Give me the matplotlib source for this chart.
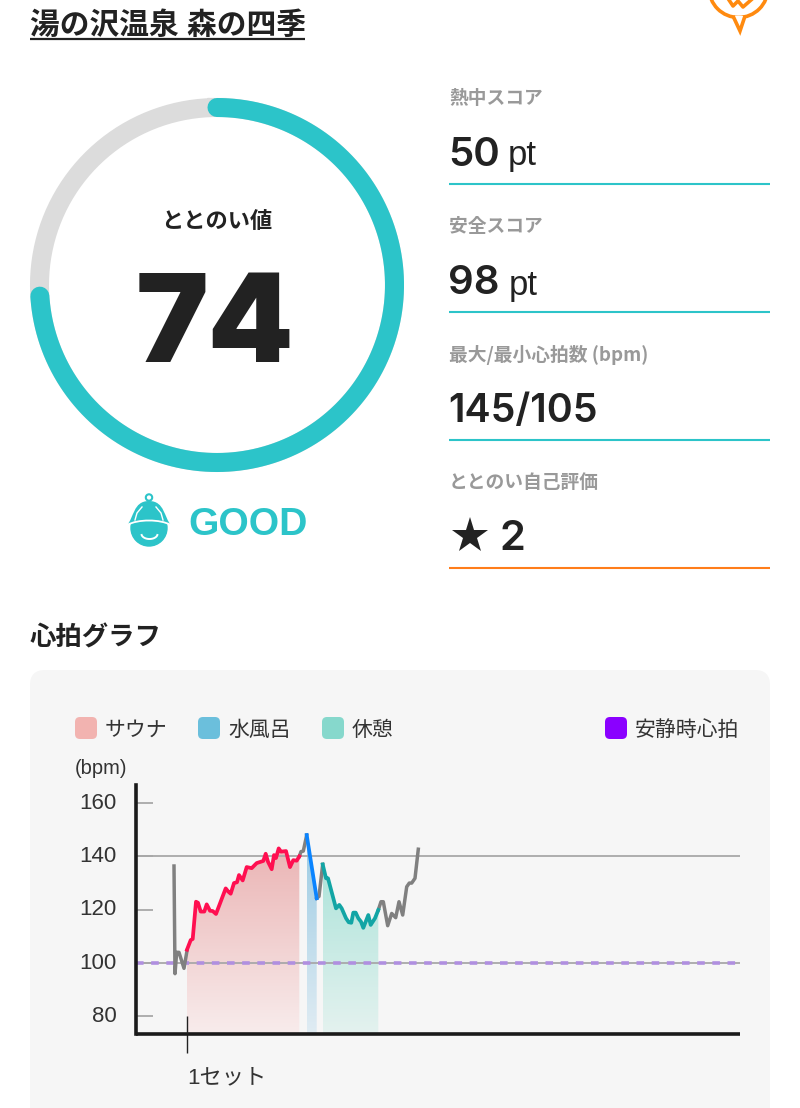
# -*- coding: utf-8 -*-
import numpy as np
import matplotlib
matplotlib.use('Agg')
import matplotlib.pyplot as plt
from matplotlib.patches import Circle, FancyBboxPatch, PathPatch, Polygon
from matplotlib.path import Path
from matplotlib.colors import to_rgb
from matplotlib.transforms import ScaledTranslation

plt.rcParams['font.family'] = ['Liberation Sans', 'Noto Sans CJK JP', 'DejaVu Sans']
CJK = ['Noto Sans CJK JP', 'DejaVu Sans']
NUM = ['Inter', 'Liberation Sans']

TEAL = '#2cc4c9'
GREY_TXT = '#999999'
DARK = '#222222'

# データ
title = '湯の沢温泉 森の四季'
score = 74
rating_text = 'GOOD'
stat_labels = ['熱中スコア', '安全スコア', '最大/最小心拍数 (bpm)', 'ととのい自己評価']
stat_y = [98, 226, 355, 483]
heat_score = '50'
safe_score = '98'
hr_range = '145/105'
self_rating = '2'

legend_names = ['サウナ', '水風呂', '休憩', '安静時心拍']
legend_colors = ['#f2b3b0', '#6bbfdc', '#86d8cc', '#8a00ff']

y_ticks = [80, 100, 120, 140, 160]
set_time = [51]
set_labels = ['1セット']

# 心拍 (x は経過時間の目盛, y は bpm)
pre_x = [38, 39, 40.7, 43, 48, 51]
pre_y = [136.4, 96, 104, 104, 98, 104.6]
sauna_x = [51, 54.7, 56.7, 60, 62, 64.7, 68.3, 70.7, 74, 76.7, 80, 89.7, 92.3, 94.7, 98, 101, 103, 106.7,
           110.7, 115.7, 120.7, 127.3, 129.7, 132, 135.7, 138, 140, 142.7, 145, 150, 154, 157.3, 160.7, 163.3]
sauna_y = [105, 108.6, 109, 123, 122.6, 119.3, 119.3, 122, 119.6, 119.5, 118.4, 128, 126.8, 126, 130, 130.3, 133, 131,
           136, 135.6, 137.5, 138.3, 141, 138, 135.2, 140.5, 139.4, 143, 141.8, 142, 136, 138.6, 138.4, 140]
mid_x = [163.3, 165, 167.3, 170.7]
mid_y = [140, 141.8, 142, 148]
water_x = [170.7, 180.7]
water_y = [148, 124.3]
gap_x = [180.7, 183, 186.7]
gap_y = [124.3, 125, 137]
rest_x = [186.7, 190, 192, 200, 203.3, 205.7, 210, 212.7, 215.3, 217.3, 219.7, 222.3, 225, 227.3, 229.7, 232.3,
          234.7, 239, 242.3]
rest_y = [137, 131.8, 131.8, 120.5, 121.8, 120.5, 116.8, 115.3, 115.1, 118.9, 118.9, 116.8, 115.5, 113.2, 115.5, 118,
          114.3, 116.8, 119.9]
post_x = [242.3, 245, 247.3, 251.7, 255.7, 259.7, 263, 266.7, 270.7, 273.3, 275.7, 279, 282.3]
post_y = [119.9, 123, 123, 114, 118.6, 117, 123, 118, 128.6, 130, 130, 131.8, 142.7]

fig = plt.figure(figsize=(8, 11.08), dpi=100, facecolor='white')
bg = fig.add_axes([0, 0, 1, 1])
bg.set_xlim(0, 800)
bg.set_ylim(1108, 0)
bg.axis('off')

# タイトル
bg.text(30, 26, title, fontsize=21.4, fontweight='bold', color=DARK, va='center')
bg.plot([30, 305], [39, 39], color=DARK, lw=1.6, solid_capstyle='butt')

# 右上のアイコン
ORANGE = '#ff8a0f'
bg.add_patch(Circle((738.5, -12), 29.5, fill=False, ec=ORANGE, lw=2.6))
bg.add_patch(Polygon([[733, 16], [740, 31], [745, 16]], closed=False, fc='white', ec=ORANGE, lw=2.6, zorder=3))
bg.plot([729, 733, 738, 743, 751], [0, 6, 1, 7, 0], color=ORANGE, lw=2.6)

# リング
ring_x, ring_y, ring_r = 217, 285, 177.5
t = np.linspace(0, 2 * np.pi, 300)
bg.plot(ring_x + ring_r * np.sin(t), ring_y - ring_r * np.cos(t), color='#dcdcdc', lw=13.7)
t = np.linspace(0, 2 * np.pi * score / 100, 300)
bg.plot(ring_x + ring_r * np.sin(t), ring_y - ring_r * np.cos(t), color=TEAL, lw=13.7, solid_capstyle='round')
bg.text(217, 222, 'ととのい値', fontsize=16, fontweight='bold', color=DARK, ha='center', va='center')
bg.text(215, 329, str(score), fontsize=88, fontweight=900, family=NUM, color=DARK, ha='center', va='center')

# GOOD アイコン
bg.add_patch(Circle((149, 497.5), 3.2, fill=False, ec=TEAL, lw=1.5))
bg.add_patch(Circle((149, 528), 18, color=TEAL))
dome = Path([(127, 525), (134, 518), (133, 501), (149, 501), (165, 501), (164, 518), (171, 525),
             (160, 519), (138, 519), (127, 525)],
            [Path.MOVETO, Path.CURVE4, Path.CURVE4, Path.CURVE4, Path.CURVE4, Path.CURVE4, Path.CURVE4,
             Path.CURVE4, Path.CURVE4, Path.CURVE4])
bg.add_patch(PathPatch(dome, fc=TEAL, ec='none', zorder=3))
brim = Path([(127, 525), (138, 519), (160, 519), (171, 525)], [Path.MOVETO, Path.CURVE4, Path.CURVE4, Path.CURVE4])
bg.add_patch(PathPatch(brim, fc='none', ec='white', lw=1.3, zorder=4))
bg.plot([135, 137, 142], [520, 513, 507], color='white', lw=1, zorder=4)
bg.plot([163, 161, 156], [520, 513, 507], color='white', lw=1, zorder=4)
t = np.linspace(0.2, np.pi - 0.2, 30)
bg.plot(149.5 + 8 * np.cos(t), 534 + 5 * np.sin(t), color='white', lw=1.4, zorder=4)
bg.text(188, 525, rating_text, fontsize=28.2, fontweight='bold', color=TEAL, va='center')

# 右カラム
for label, y in zip(stat_labels, stat_y):
    bg.text(449, y, label, fontsize=13.5, fontweight='bold', family=CJK, color=GREY_TXT, va='center')
bg.text(448, 155, heat_score, fontsize=29, fontweight=600, family=NUM, color=DARK, va='center')
bg.text(508, 156, 'pt', fontsize=25, color=DARK, va='center')
bg.text(448, 284, safe_score, fontsize=29, fontweight=600, family=NUM, color=DARK, va='center')
bg.text(509, 285, 'pt', fontsize=25, color=DARK, va='center')
bg.text(448, 411, hr_range, fontsize=28.3, fontweight=600, family=NUM, color=DARK, va='center')
bg.plot([470], [536], marker='*', ms=27, color=DARK, mew=0)
bg.text(499, 539, self_rating, fontsize=30, family=NUM, fontweight=600, color=DARK, va='center')
for y, c in zip([184, 312, 440, 568], [TEAL, TEAL, TEAL, '#ff7d1a']):
    bg.plot([449, 770], [y, y], color=c, lw=1.5, solid_capstyle='butt')

# グラフ領域
bg.text(30, 638, '心拍グラフ', fontsize=19, fontweight='bold', color=DARK, va='center')
bg.add_patch(FancyBboxPatch((30, 670), 740, 500, boxstyle='round,pad=0,rounding_size=15', fc='#f6f6f6', ec='none'))
for name, color, x in zip(legend_names, legend_colors, [75, 198, 322, 605]):
    bg.add_patch(FancyBboxPatch((x, 717), 22, 22, boxstyle='round,pad=0,rounding_size=5', fc=color, ec='none'))
    bg.text(x + 30, 730, name, fontsize=15, color='#333333', va='center')
bg.text(75, 769, '(bpm)', fontsize=14.5, color='#333333', va='center')

ax = fig.add_axes([136 / 800, 1 - 1034 / 1108, 604 / 800, 249 / 1108], facecolor='none')
y_bottom, y_top = 73.36, 166.8


def gradient_band(x, y, top_color, bottom_color):
    # 線の下だけグラデーションを見せる
    poly = ax.fill_between(x, y, y_bottom, color='none')
    top = np.array(to_rgb(top_color))
    bottom = np.array(to_rgb(bottom_color))
    grad = np.linspace(0, 1, 200)[:, None, None] * (bottom - top) + top
    im = ax.imshow(grad, extent=[x[0], x[-1], y_bottom, 143], origin='upper', aspect='auto', zorder=1)
    im.set_clip_path(poly.get_paths()[0], transform=ax.transData)


gradient_band(sauna_x, sauna_y, '#ebb5b5', '#f8ecec')
gradient_band(water_x, water_y, '#a0cde4', '#e0ecf3')
gradient_band(rest_x, rest_y, '#a8e2d8', '#e4f2ef')

ax.axhline(140, color='#a8a8a8', lw=1.3, zorder=2)
ax.axhline(100, color='#a8a8a8', lw=1.3, zorder=2)
ax.axhline(100, color='#b08fe0', lw=2.6, dashes=(2.1, 2.1), zorder=2.5)

for x, y in [(pre_x, pre_y), (mid_x, mid_y), (gap_x, gap_y), (post_x, post_y)]:
    ax.plot(x, y, color='#808080', lw=2.5, zorder=3, solid_joinstyle='round')
ax.plot(sauna_x, sauna_y, color='#ff0f50', lw=2.7, zorder=3)
ax.plot(water_x, water_y, color='#0a84ff', lw=2.7, zorder=3)
ax.plot(rest_x, rest_y, color='#12a5a5', lw=2.7, zorder=3)

ax.set_xlim(0, 604)
ax.set_ylim(y_bottom, y_top)
ax.set_yticks(y_ticks)
ax.tick_params(axis='y', direction='in', length=12, width=1.3, color='#a8a8a8', labelsize=16,
               labelcolor='#333333', pad=14)
for lab in ax.get_yticklabels():
    lab.set_transform(lab.get_transform() + ScaledTranslation(0, 2.5 / 100, fig.dpi_scale_trans))
ax.set_xticks(set_time)
ax.set_xticklabels(set_labels, ha='left', fontsize=16, color='#333333')
ax.tick_params(axis='x', direction='out', length=14, width=1, color=DARK, pad=10)
ax.vlines(set_time, y_bottom, 80, color=DARK, lw=1, zorder=4)
ax.spines[['top', 'right']].set_visible(False)
ax.spines[['left', 'bottom']].set_linewidth(2.6)
ax.spines[['left', 'bottom']].set_color('#1a1a1a')
ax.spines['bottom'].set_capstyle('butt')

fig.savefig('out.png', dpi=100)
